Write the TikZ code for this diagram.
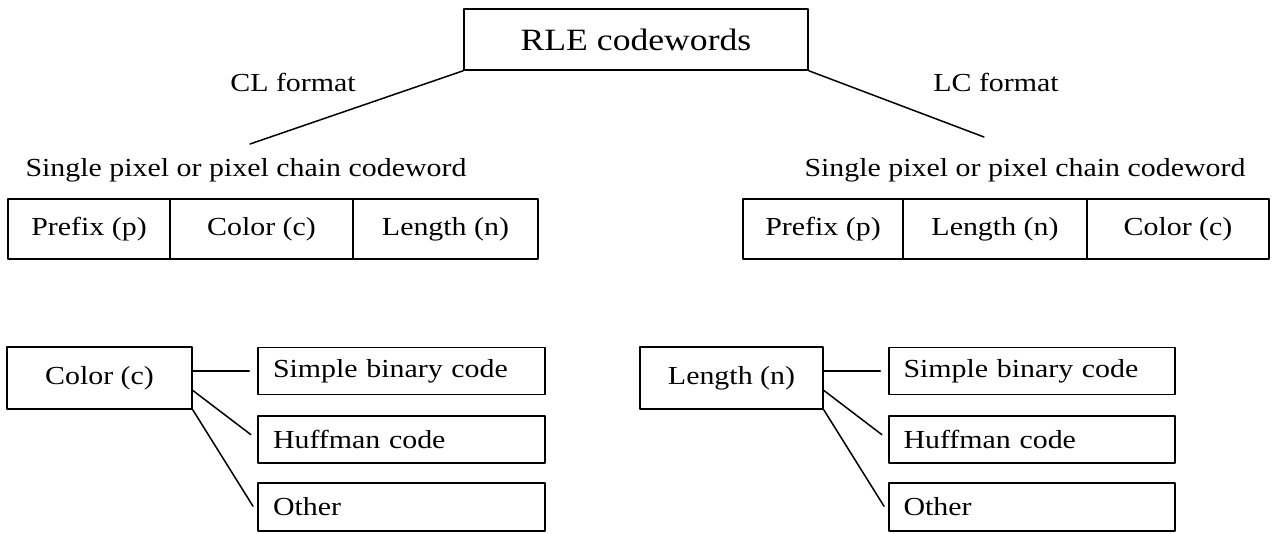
\documentclass[tikz,border=0pt]{standalone}
\usepackage{fontspec}
\setmainfont{Liberation Serif}[FakeStretch=1.15]
\usepackage{tikz}
\usetikzlibrary{calc,positioning}
\tikzset{
  rle diagram/.style={x=1pt, y=-1pt, line cap=round, line join=round},
  rle box/.style={draw=black, line width=1.5pt, inner sep=0pt,
    minimum height=60pt, font=\fontsize{26}{30}\selectfont},
  rle code box/.style={rle box, minimum width=287pt, minimum height=47pt,
    text width=257pt, align=left},
  rle link/.style={draw=black, line width=1.5pt},
  rle branch/.style={rle link, shorten >=8pt},
  rle label/.style={font=\fontsize{26}{30}\selectfont, inner sep=0pt}
}
\begin{document}
\begin{tikzpicture}[rle diagram]
\useasboundingbox (0,0) rectangle (1273,533);
% root
\node[rle box, minimum width=344pt, minimum height=61pt, font=\fontsize{31}{36}\selectfont] (root) at (636,39.5) {RLE codewords};
\coordinate (clEnd) at (250,144);
\coordinate (lcEnd) at (984,137);
\draw[rle link] (root.south west) -- (clEnd);
\draw[rle link] (root.south east) -- (lcEnd);
\node[rle label] (clFormat) at (293,82) {CL format};
\node[rle label] (lcFormat) at (996,82) {LC format};
% codeword layouts
\node[rle label] (clWord) at (246,170) {Single pixel or pixel chain codeword};
\node[rle label] (lcWord) at (1025,170) {Single pixel or pixel chain codeword};
\node[rle box, minimum width=162pt] (clPrefix) at (89,229) {Prefix (p)};
\node[rle box, minimum width=183pt] (clColor) at (261.5,229) {Color (c)};
\node[rle box, minimum width=185pt] (clLength) at (445.5,229) {Length (n)};
\node[rle box, minimum width=160pt] (lcPrefix) at (823,229) {Prefix (p)};
\node[rle box, minimum width=184pt] (lcLength) at (995,229) {Length (n)};
\node[rle box, minimum width=182pt] (lcColor) at (1178,229) {Color (c)};
% coding choices
\node[rle box, minimum width=185pt, minimum height=62pt] (colorSel) at (99.5,378) {Color (c)};
\node[rle code box] (clSimple) at (401.5,371) {Simple binary code};
\node[rle code box] (clHuffman) at (401.5,439.5) {Huffman code};
\node[rle code box, minimum height=48pt] (clOther) at (401.5,507) {Other};
\node[rle box, minimum width=183pt, minimum height=62pt] (lengthSel) at (731.5,378) {Length (n)};
\node[rle code box, minimum width=286pt] (lcSimple) at (1032,371) {Simple binary code};
\node[rle code box, minimum width=286pt] (lcHuffman) at (1032,439.5) {Huffman code};
\node[rle code box, minimum width=286pt, minimum height=48pt] (lcOther) at (1032,507) {Other};
\draw[rle branch] (colorSel.east |- clSimple.west) -- (clSimple.west);
\draw[rle branch] ($(colorSel.east)!0.39!(colorSel.south east)$) -- (clHuffman.west);
\draw[rle branch] (colorSel.south east) -- ($(clOther.west)+(0,6)$);
\draw[rle branch] (lengthSel.east |- lcSimple.west) -- (lcSimple.west);
\draw[rle branch] ($(lengthSel.east)!0.39!(lengthSel.south east)$) -- (lcHuffman.west);
\draw[rle branch] (lengthSel.south east) -- ($(lcOther.west)+(0,6)$);
\end{tikzpicture}
\end{document}
